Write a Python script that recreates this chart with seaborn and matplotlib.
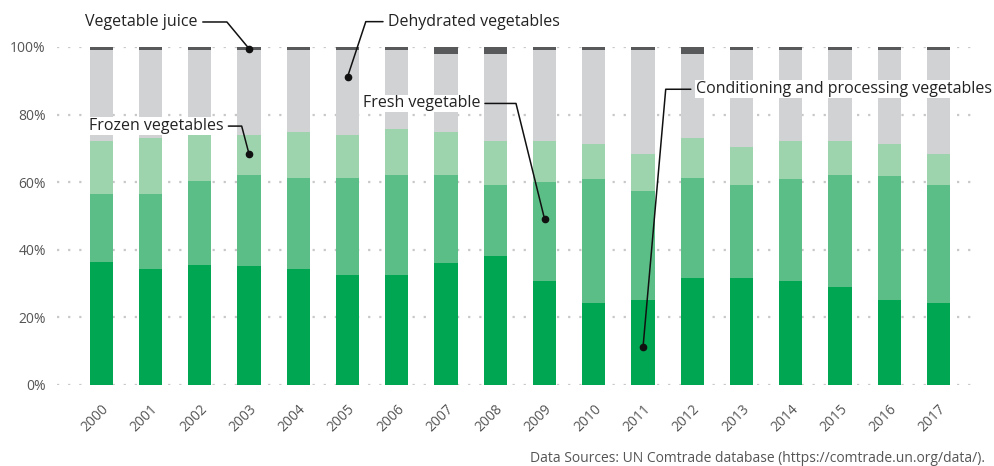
import pandas as pd
import seaborn as sns
import matplotlib
matplotlib.use('Agg')
from matplotlib import pyplot as plt

years = [str(y) for y in range(2000, 2018)]
# shares in % (bottom -> top)
conditioning = [36.5, 34.3, 35.5, 35.2, 34.3, 32.5, 32.5, 36.1, 38.2, 30.8, 24.3, 25.2, 31.7, 31.7, 30.8, 29.0, 25.2, 24.3]
fresh = [20.0, 22.2, 24.9, 26.9, 26.9, 28.7, 29.6, 26.0, 21.0, 29.3, 36.7, 32.2, 29.5, 27.5, 30.2, 33.1, 36.6, 34.9]
frozen = [15.7, 16.7, 13.6, 11.9, 13.7, 12.8, 13.6, 12.8, 13.0, 12.1, 10.3, 10.9, 11.9, 11.2, 11.2, 10.1, 9.5, 9.1]
dehydrated = [26.8, 25.8, 25.0, 25.0, 24.1, 25.0, 23.3, 23.0, 25.7, 26.8, 27.7, 30.7, 24.8, 28.6, 26.8, 26.8, 27.7, 30.7]
juice = [1.0, 1.0, 1.0, 1.0, 1.0, 1.0, 1.0, 2.1, 2.1, 1.0, 1.0, 1.0, 2.1, 1.0, 1.0, 1.0, 1.0, 1.0]

series = ['Conditioning and processing vegetables', 'Fresh vegetable', 'Frozen vegetables',
          'Dehydrated vegetables', 'Vegetable juice']
colors = ['#00a651', '#5bbe87', '#9dd4ae', '#d1d2d4', '#58595b']

df = pd.DataFrame({'year': years, series[0]: conditioning, series[1]: fresh,
                   series[2]: frozen, series[3]: dehydrated, series[4]: juice})
cum = df[series].cumsum(axis=1)
cum = cum.div(cum[series[-1]], axis=0) * 100

sns.set_style('white')
plt.rcParams['font.family'] = ['Open Sans', 'DejaVu Sans']

fig = plt.figure(figsize=(9.95, 4.66), dpi=100)
ax = fig.add_axes([57 / 995, 1 - 385 / 466, (975 - 57) / 995, (385 - 47) / 466])

# stacked bars: draw the tallest cumulative layer first
for name, c in reversed(list(zip(series, colors))):
    sns.barplot(x=df['year'], y=cum[name], color=c, saturation=1, width=0.47,
                errorbar=None, ax=ax, zorder=2, linewidth=0, edgecolor='none')

ax.set_xlim(-0.9, 17.74)
ax.set_ylim(0, 100)
ax.set_yticks(range(0, 101, 20))
ax.set_yticklabels([f'{v}%' for v in range(0, 101, 20)])
ax.yaxis.grid(True, color='#c8c8c8', linestyle=(0, (1, 4)), linewidth=1.6, zorder=0)
ax.set_axisbelow(True)
ax.set_xlabel('')
ax.set_ylabel('')
sns.despine(ax=ax, left=True, bottom=True)
ax.tick_params(axis='both', length=0, labelsize=10, labelcolor='#555555')
ax.tick_params(axis='y', pad=8)
ax.tick_params(axis='x', pad=12)
for lab in ax.get_xticklabels():
    lab.set_rotation(45)
    lab.set_ha('right')
    lab.set_rotation_mode('anchor')

# labels with elbow leader lines: (text, dot, elbow, line start, text side)
notes = [
    ('Vegetable juice', (3, 99.5), (2.55, 107.4), (2.06, 107.4), 'right'),
    ('Dehydrated vegetables', (5, 91.2), (5.37, 107.5), (5.72, 107.5), 'left'),
    ('Frozen vegetables', (3, 68.3), (2.85, 76.6), (2.58, 76.6), 'right'),
    ('Fresh vegetable', (9, 49.1), (8.42, 83.3), (7.79, 83.3), 'right'),
    ('Conditioning and processing vegetables', (11, 11.3), (11.46, 87.5), (11.97, 87.5), 'left'),
]
for text, dot, elbow, start, side in notes:
    ax.plot([dot[0], elbow[0], start[0]], [dot[1], elbow[1], start[1]],
            color='#111111', lw=1.1, clip_on=False, zorder=5)
    ax.plot([dot[0]], [dot[1]], 'o', color='#111111', ms=4.5, clip_on=False, zorder=6)
    off = -0.1 if side == 'right' else 0.1
    ax.text(start[0] + off, start[1], text, ha=side, va='center', fontsize=11.5,
            color='#222222', zorder=4, clip_on=False,
            bbox=dict(boxstyle='square,pad=0.05', fc='white', ec='none'))

fig.text(985 / 995, 1 - 458 / 466, 'Data Sources: UN Comtrade database (https://comtrade.un.org/data/).',
         ha='right', va='center', fontsize=10, color='#555555')

fig.savefig('out.png', dpi=100)
